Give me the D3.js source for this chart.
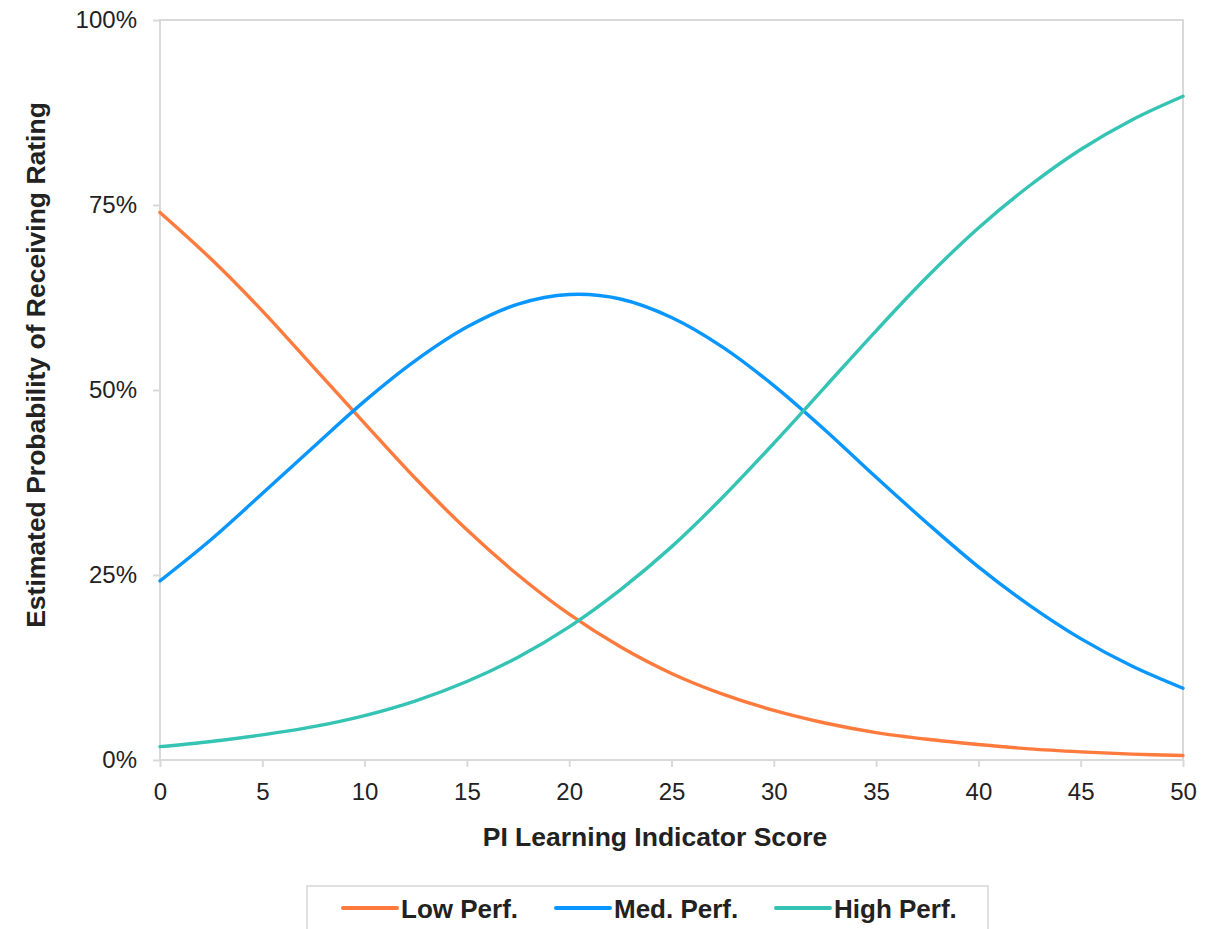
<!DOCTYPE html>
<html><head><meta charset="utf-8">
<script src="https://cdn.jsdelivr.net/npm/d3@7"></script>
<style>
body{margin:0;background:#fff;}
svg{display:block;font-family:"Liberation Sans",Arial,sans-serif;}
</style></head><body>
<svg id="c" width="1220" height="929"></svg>
<script>
const scores = [0,2.5,5,7.5,10,12.5,15,17.5,20,22.5,25,27.5,30,32.5,35,37.5,40,42.5,45,47.5,50];
const lowPerf  = [74.0,67.7,60.7,53.1,45.5,38.0,31.1,25.0,19.7,15.3,11.7,8.9,6.7,5.0,3.7,2.8,2.1,1.5,1.1,0.8,0.6];
const medPerf  = [24.2,29.8,36.0,42.3,48.5,54.0,58.5,61.6,62.9,62.3,59.8,55.8,50.6,44.6,38.2,32.0,26.1,20.9,16.4,12.7,9.7];
const highPerf = [1.8,2.5,3.4,4.5,6.0,8.0,10.6,13.9,18.0,23.0,28.8,35.5,42.8,50.4,58.0,65.3,71.9,77.6,82.5,86.5,89.7];
const seriesNames = ["Low Perf.","Med. Perf.","High Perf."];
const seriesColors = ["#FF7A3D","#0A96FF","#35C4B4"];
const xTicks = [0,5,10,15,20,25,30,35,40,45,50];
const yTicks = [0,25,50,75,100];

const svg = d3.select("#c");
const L=160,R=1183,T=20,B=760;
const x = d3.scaleLinear().domain([0,50]).range([L,R]);
const y = d3.scaleLinear().domain([0,100]).range([B,T]);
const frame="#d9d9d9";
const FONT="Liberation Sans, Arial, sans-serif";

svg.append("rect").attr("x",L).attr("y",T).attr("width",R-L).attr("height",B-T)
  .attr("fill","none").attr("stroke",frame).attr("stroke-width",2);

const ya = svg.append("g").attr("transform",`translate(${L},0)`)
  .call(d3.axisLeft(y).tickValues(yTicks).tickSize(7).tickPadding(16).tickFormat(d=>d+"%"));
ya.select(".domain").remove();
ya.selectAll("line").attr("stroke",frame).attr("stroke-width",2);
ya.selectAll("text").attr("font-size",24).attr("fill","#222").attr("font-family",FONT);

const xa = svg.append("g").attr("transform",`translate(0,${B})`)
  .call(d3.axisBottom(x).tickValues(xTicks).tickSize(7).tickPadding(16));
xa.select(".domain").remove();
xa.selectAll("line").attr("stroke",frame).attr("stroke-width",2);
xa.selectAll("text").attr("font-size",24).attr("fill","#222").attr("font-family",FONT);

svg.append("text").attr("x",655).attr("y",846).attr("text-anchor","middle").attr("font-family",FONT)
  .attr("font-size",26.5).attr("font-weight","bold").attr("fill","#222").text("PI Learning Indicator Score");
svg.append("text").attr("transform",`translate(45,365) rotate(-90)`).attr("text-anchor","middle").attr("font-family",FONT)
  .attr("font-size",26.5).attr("font-weight","bold").attr("fill","#222").text("Estimated Probability of Receiving Rating");

const data = [lowPerf,medPerf,highPerf];
const line = d3.line().x((d,i)=>x(scores[i])).y(d=>y(d)).curve(d3.curveCatmullRom.alpha(0.5));
data.forEach((s,k)=>{
  svg.append("path").attr("d",line(s)).attr("fill","none")
    .attr("stroke",seriesColors[k]).attr("stroke-width",3.4).attr("stroke-linecap","round");
});

svg.append("rect").attr("x",307).attr("y",886).attr("width",681).attr("height",70)
  .attr("fill","#fff").attr("stroke","#e0e0e0").attr("stroke-width",2);
const legX=[343,556,776];
seriesNames.forEach((n,k)=>{
  const g=svg.append("g").attr("transform",`translate(${legX[k]},908)`);
  g.append("line").attr("x1",0).attr("x2",54).attr("y1",0).attr("y2",0)
    .attr("stroke",seriesColors[k]).attr("stroke-width",4).attr("stroke-linecap","round");
  g.append("text").attr("x",58).attr("y",9.5).attr("font-size",26).attr("font-weight","bold").attr("font-family",FONT)
    .attr("fill","#222").text(n);
});
</script>
</body></html>
